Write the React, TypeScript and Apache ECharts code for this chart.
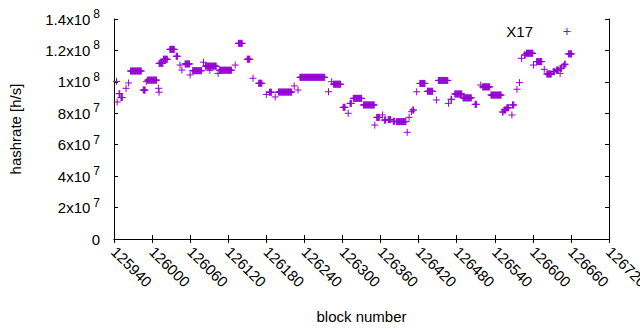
import React, { useEffect, useRef } from 'react';
import * as echarts from 'echarts';

// Hashrate runs: [first block, last block, hashrate in 1e6 h/s]
const runStart = [
  125944, 125945, 125948, 125951, 125959, 125963, 125966, 125986, 125991, 125993,
  126010, 126011, 126011, 126018, 126028, 126038, 126044, 126047, 126052, 126060,
  126064, 126081, 126084, 126091, 126104, 126106, 126131, 126136, 126150, 126159,
  126168, 126180, 126185, 126194, 126199, 126224, 126230, 126233, 126278, 126283,
  126286, 126301, 126309, 126312, 126317, 126333, 126351, 126354, 126363, 126366,
  126372, 126380, 126385, 126402, 126405, 126409, 126411, 126417, 126422, 126434,
  126448, 126451, 126467, 126471, 126477, 126490, 126509, 126518, 126521, 126534,
  126552, 126555, 126559, 126567, 126568, 126575, 126579, 126582, 126587, 126590,
  126601, 126606, 126618, 126622, 126632, 126637, 126643, 126643, 126648, 126650,
  126656,
];
const runEnd = [
  125944, 125945, 125949, 125953, 125959, 125963, 125983, 125989, 125991, 126007,
  126010, 126011, 126017, 126024, 126035, 126040, 126044, 126047, 126059, 126060,
  126078, 126081, 126101, 126091, 126104, 126125, 126131, 126142, 126154, 126159,
  126173, 126180, 126188, 126194, 126220, 126224, 126230, 126272, 126278, 126283,
  126297, 126304, 126309, 126314, 126330, 126350, 126351, 126358, 126363, 126368,
  126376, 126382, 126400, 126402, 126405, 126409, 126412, 126417, 126430, 126442,
  126448, 126466, 126467, 126472, 126488, 126503, 126511, 126518, 126532, 126550,
  126553, 126557, 126562, 126567, 126570, 126575, 126579, 126582, 126588, 126600,
  126601, 126614, 126618, 126629, 126634, 126640, 126643, 126645, 126648, 126651,
  126661,
];
const runHashrateM = [
  100.3, 87.2, 92.5, 90.0, 95.9, 99.3, 106.9, 94.8, 100.1, 101.1,
  95.9, 93.4, 111.8, 114.4, 120.7, 116.3, 110.7, 107.5, 111.4, 104.4,
  107.1, 112.5, 110.0, 107.3, 105.4, 107.4, 110.7, 124.5, 114.4, 102.3,
  99.1, 92.0, 93.4, 90.4, 93.5, 97.4, 94.8, 102.9, 93.7, 100.1,
  98.5, 83.8, 80.0, 86.3, 89.5, 85.3, 72.5, 77.4, 78.9, 75.7,
  76.0, 74.9, 74.7, 67.9, 77.4, 81.0, 82.1, 93.7, 99.0, 94.0,
  88.5, 100.9, 86.3, 88.9, 92.3, 89.8, 85.7, 98.0, 96.8, 91.6,
  80.8, 82.1, 83.5, 78.9, 85.3, 95.3, 99.5, 115.0, 117.1, 118.2,
  110.7, 112.9, 108.0, 105.0, 106.5, 107.5, 105.4, 108.6, 110.1, 111.2,
  117.8,
];

const seriesName = 'X17';
const xAxisTitle = 'block number';
const yAxisTitle = 'hashrate [h/s]';
const xMin = 125940;
const xMax = 126720;
const xStep = 60;
const yMin = 0;
const yMax = 1.4e8;
const yStep = 2e7;

const PURPLE = '#9400d3';
const FONT = '"Liberation Sans", Arial, sans-serif';
const PLUS = 'path://M3.5,0L3.5,7M0,3.5L7,3.5';

function buildPoints(): number[][] {
  const pts: number[][] = [];
  for (let i = 0; i < runStart.length; i++) {
    for (let b = runStart[i]; b <= runEnd[i]; b++) {
      pts.push([b, runHashrateM[i] * 1e6]);
    }
  }
  return pts;
}

function yLabel(v: number): string {
  if (v === 0) return '0';
  const e = Math.floor(Math.log10(v) + 1e-9);
  const m = Math.round((v / Math.pow(10, e)) * 10) / 10;
  return `{m|${m}x10}{s|${e}}`;
}

export default function App() {
  const ref = useRef<HTMLDivElement>(null);
  useEffect(() => {
    if (!ref.current) return;
    const chart = echarts.init(ref.current, undefined, { renderer: 'svg' });
    const axisLine = { show: true, lineStyle: { color: '#000', width: 1 } };
    chart.setOption({
      animation: false,
      backgroundColor: '#fff',
      textStyle: { fontFamily: FONT },
      grid: { left: 114, right: 31, top: 19, bottom: 91, containLabel: false, outerBoundsMode: 'none' },
      legend: {
        show: true,
        data: [seriesName],
        right: 64,
        top: 19,
        align: 'right',
        itemWidth: 58,
        itemHeight: 7,
        icon: PLUS,
        itemStyle: { color: PURPLE, borderColor: PURPLE, borderWidth: 1 },
        textStyle: { fontSize: 15, color: '#000', fontFamily: FONT },
      },
      xAxis: [
        {
          type: 'value',
          min: xMin,
          max: xMax,
          interval: xStep,
          position: 'bottom',
          name: xAxisTitle,
          nameLocation: 'middle',
          nameGap: 70,
          nameTextStyle: { fontSize: 15, color: '#000', fontFamily: FONT },
          axisLine,
          axisTick: { show: true, inside: true, length: 4, lineStyle: { color: '#000' } },
          splitLine: { show: false },
          axisLabel: {
            show: true,
            rotate: -45,
            margin: 10,
            fontSize: 15,
            color: '#000',
            fontFamily: FONT,
            showMinLabel: true,
            showMaxLabel: true,
            hideOverlap: false,
            formatter: (v: number) => String(v),
          },
        },
        {
          type: 'value',
          min: xMin,
          max: xMax,
          interval: xStep,
          position: 'top',
          axisLine,
          axisTick: { show: true, inside: true, length: 4, lineStyle: { color: '#000' } },
          axisLabel: { show: false },
          splitLine: { show: false },
        },
      ],
      yAxis: [
        {
          type: 'value',
          min: yMin,
          max: yMax,
          interval: yStep,
          position: 'left',
          name: yAxisTitle,
          nameLocation: 'middle',
          nameGap: 91,
          nameRotate: 90,
          nameTextStyle: { fontSize: 15, color: '#000', fontFamily: FONT },
          axisLine,
          axisTick: { show: true, inside: true, length: 4, lineStyle: { color: '#000' } },
          splitLine: { show: false },
          axisLabel: {
            show: true,
            margin: 14,
            color: '#000',
            fontFamily: FONT,
            formatter: yLabel,
            rich: {
              m: { fontSize: 15, lineHeight: 16, color: '#000', fontFamily: FONT },
              s: { fontSize: 12, lineHeight: 12, padding: [0, 0, 10, 3], color: '#000', fontFamily: FONT },
            },
            fontSize: 15,
          },
        },
        {
          type: 'value',
          min: yMin,
          max: yMax,
          interval: yStep,
          position: 'right',
          axisLine,
          axisTick: { show: true, inside: true, length: 4, lineStyle: { color: '#000' } },
          axisLabel: { show: false },
          splitLine: { show: false },
        },
      ],
      series: [
        {
          name: seriesName,
          type: 'scatter',
          xAxisIndex: 0,
          yAxisIndex: 0,
          symbol: PLUS,
          symbolSize: 7,
          itemStyle: { color: PURPLE, borderColor: PURPLE, borderWidth: 1, opacity: 1 },
          emphasis: { disabled: true },
          data: buildPoints(),
        },
      ],
    });
    return () => chart.dispose();
  }, []);
  return (
    <div
      ref={ref}
      style={{ position: 'fixed', left: 0, top: 0, width: 640, height: 330, background: '#fff' }}
    />
  );
}
